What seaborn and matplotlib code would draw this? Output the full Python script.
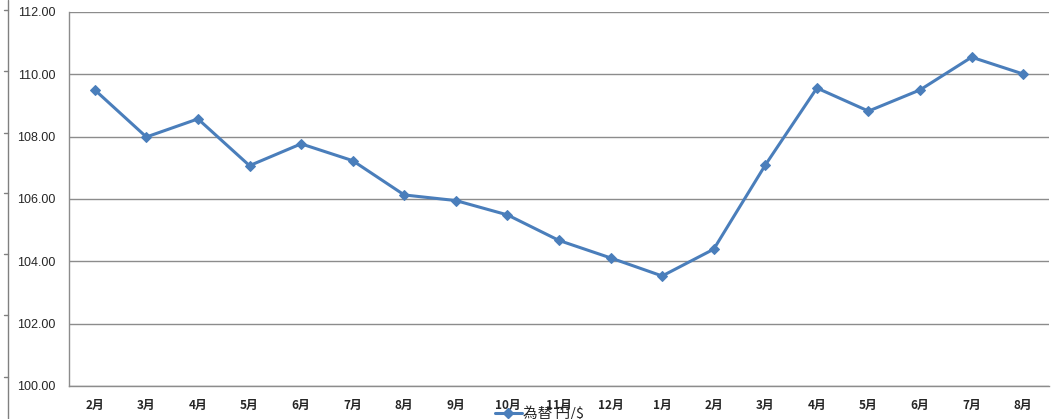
import matplotlib
matplotlib.use("Agg")
import matplotlib.pyplot as plt
from matplotlib.lines import Line2D
from matplotlib.ticker import FixedLocator, FormatStrFormatter
import seaborn as sns
import pandas as pd
import numpy as np

months = ["2月", "3月", "4月", "5月", "6月", "7月", "8月", "9月", "10月", "11月",
          "12月", "1月", "2月", "3月", "4月", "5月", "6月", "7月", "8月"]
rates = [109.50, 107.99, 108.57, 107.07, 107.77, 107.23, 106.13, 105.95, 105.49,
         104.67, 104.11, 103.53, 104.39, 107.09, 109.56, 108.82, 109.50, 110.55, 110.01]
series_name = "為替 円/$"
y_ticks = [100, 102, 104, 106, 108, 110, 112]

df = pd.DataFrame({"pos": np.arange(len(months)), "rate": rates})

sns.set_theme(style="white")
plt.rcParams["font.family"] = ["Liberation Sans", "Noto Sans CJK JP", "DejaVu Sans"]

W, H = 1056, 419
fig = plt.figure(figsize=(W / 100, H / 100), dpi=100)
ax = fig.add_axes([69 / W, 1 - 386 / H, (1049 - 69) / W, (386 - 12) / H])

blue = "#4A7EBB"
grid = "#8C8C8C"

sns.lineplot(data=df, x="pos", y="rate", ax=ax, color=blue, linewidth=2.2,
             marker="D", markersize=5.5, markeredgecolor=blue, label=series_name,
             legend=False)

ax.set_xlim(-0.5, len(months) - 0.5)
ax.set_ylim(100, 112)
ax.set_yticks(y_ticks)
ax.yaxis.set_major_formatter(FormatStrFormatter("%.2f"))
ax.yaxis.grid(True, color=grid, linewidth=1.0)
ax.xaxis.grid(False)
ax.set_axisbelow(True)

ax.set_xticks(df["pos"])
ax.set_xticklabels(months, family=["Noto Sans CJK JP"], fontsize=8.5, fontweight="bold")
ax.xaxis.set_minor_locator(FixedLocator(np.arange(-0.5, len(months), 1.0)))
ax.tick_params(axis="x", which="major", length=0, pad=9)
ax.tick_params(axis="x", which="minor", length=4, width=1, color=grid, direction="out")
ax.tick_params(axis="y", which="major", length=4, width=1, color=grid, direction="out",
               labelsize=9, pad=6)
ax.set_xlabel("")
ax.set_ylabel("")

for s in ["top", "right"]:
    ax.spines[s].set_visible(False)
for s in ["left", "bottom"]:
    ax.spines[s].set_color(grid)
    ax.spines[s].set_linewidth(1.0)

handle = Line2D([], [], color=blue, linewidth=2.2, marker="D", markersize=5.5)
fig.legend([handle], [series_name], loc="center left",
           bbox_to_anchor=(488 / W, 6 / H), frameon=False,
           handlelength=1.8, handletextpad=0.1, borderpad=0,
           prop={"family": ["Noto Sans CJK JP"], "size": 10.5})

# remnant axis at the far left edge
fig.add_artist(Line2D([7.5 / W, 7.5 / W], [0, 1], color="#808080", linewidth=1.0,
                      transform=fig.transFigure))
for yy in [10, 71, 133, 193, 254, 315, 377]:
    fig.add_artist(Line2D([4 / W, 7.5 / W], [1 - yy / H, 1 - yy / H], color="#808080",
                          linewidth=1.0, transform=fig.transFigure))

fig.savefig("out.png", dpi=100)
